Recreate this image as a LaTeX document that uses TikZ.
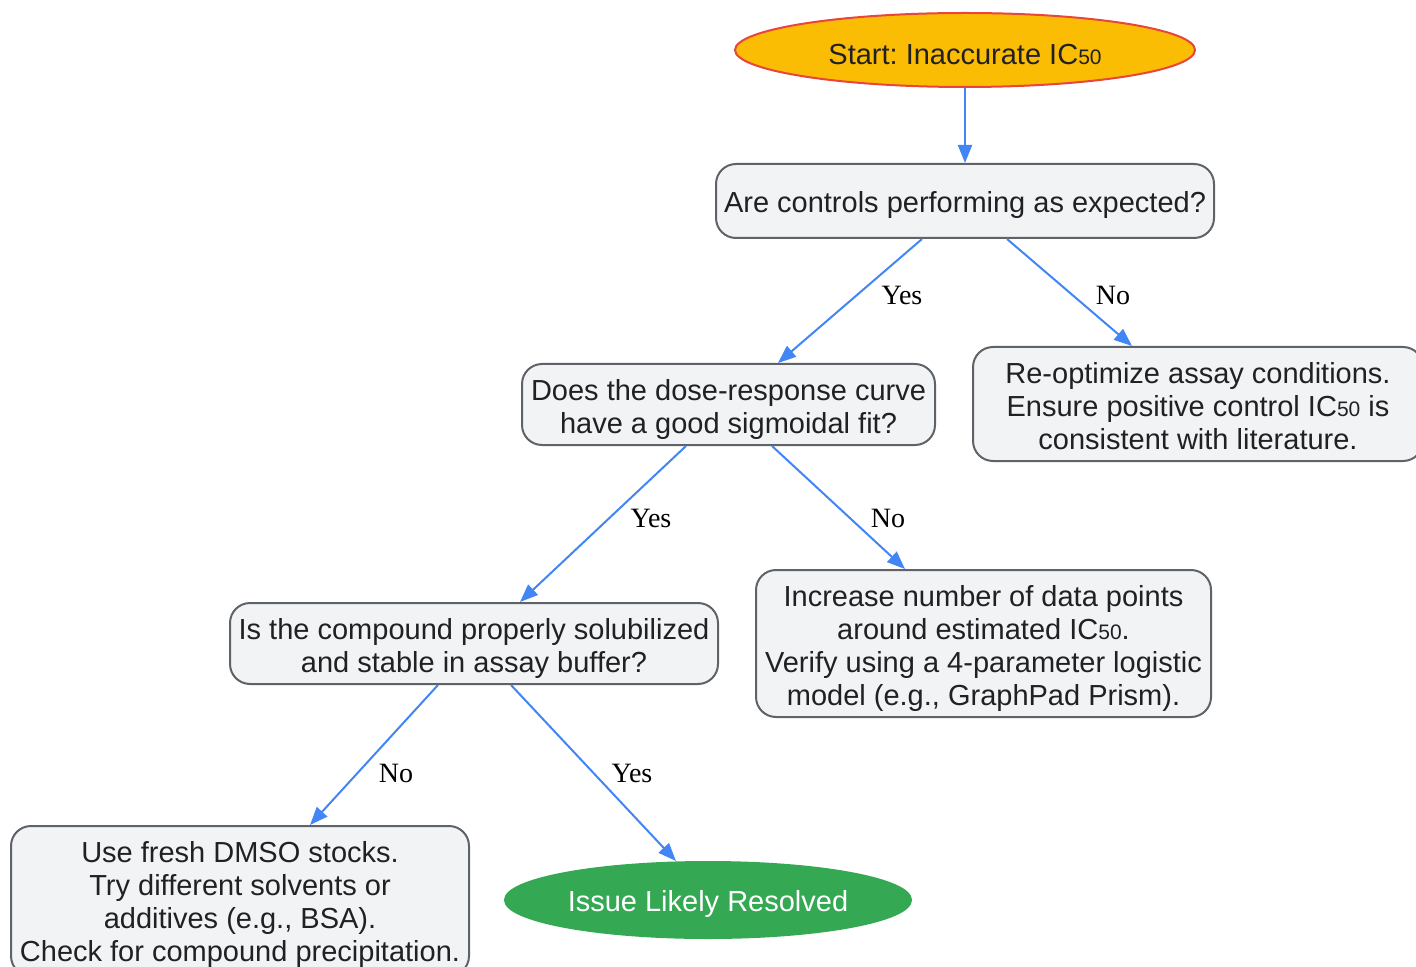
\documentclass[tikz,border=0pt]{standalone}
\usepackage{fontspec}
\setmainfont{Liberation Sans}
\newfontfamily\labelfont{Liberation Serif}
\usetikzlibrary{shapes.geometric,arrows.meta}
\definecolor{startfill}{HTML}{FBBC04}
\definecolor{startline}{HTML}{E8453C}
\definecolor{boxfill}{HTML}{F1F3F4}
\definecolor{boxline}{HTML}{5F6368}
\definecolor{arrowblue}{HTML}{4285F4}
\definecolor{endfill}{HTML}{34A853}
\definecolor{textgray}{HTML}{202124}
\newcommand{\icfifty}{IC{\fontsize{10.5}{12}\selectfont 50}}
\newcommand{\lift}[1]{\rule{0pt}{#1}}
\frenchspacing
\begin{document}
\begin{tikzpicture}
[x=0.5pt,y=-0.5pt,%
  every node/.style={font=\fontsize{14.5}{16.5}\selectfont,text=textgray,align=center},%
  decision/.style={draw=boxline,fill=boxfill,line width=1pt,rounded corners=10pt,inner sep=0pt},%
  terminal/.style={ellipse,inner sep=0pt,line width=1pt},%
  flow/.style={draw=arrowblue,line width=1pt,-{Triangle[length=9pt,width=7pt]}},%
  answer/.style={font=\labelfont\fontsize{14}{16}\selectfont,text=black}]
\useasboundingbox (0,0) rectangle (1416,967);
\node[terminal,draw=startline,fill=startfill,minimum width=230pt,minimum height=37pt] (start) at (965,50)
  {\lift{14.5pt}Start: Inaccurate \icfifty};
\node[decision,minimum width=249pt,minimum height=37pt] (controls) at (965,201)
  {\lift{14.5pt}Are controls performing as expected?};
\node[decision,minimum width=206.5pt,minimum height=40.5pt] (fit) at (728.5,404.5)
  {\lift{16pt}Does the dose-response curve\\have a good sigmoidal fit?};
\node[decision,minimum width=225pt,minimum height=57pt] (reopt) at (1198,404)
  {\lift{13pt}Re-optimize assay conditions.\\Ensure positive control \icfifty{} is\\consistent with literature.};
\node[decision,minimum width=244pt,minimum height=40.5pt] (solub) at (474,643.5)
  {\lift{16pt}Is the compound properly solubilized\\and stable in assay buffer?};
\node[decision,minimum width=227.5pt,minimum height=73.5pt] (points) at (983.5,643.5)
  {\lift{15.5pt}Increase number of data points\\around estimated \icfifty.\\Verify using a 4-parameter logistic\\model (e.g., GraphPad Prism).};
\node[decision,minimum width=229pt,minimum height=75pt] (dmso) at (240,901)
  {\lift{13.5pt}Use fresh DMSO stocks.\\Try different solvents or\\additives (e.g., BSA).\\Check for compound precipitation.};
\node[terminal,draw=endfill,fill=endfill,text=white,minimum width=203pt,minimum height=38pt] (resolved) at (708,900)
  {\lift{14.5pt}Issue Likely Resolved};

\draw[flow] (start) -- (controls);
\draw[flow] ([xshift=-21.5pt]controls.south) -- ([xshift=24.75pt]fit.north);
\draw[flow] ([xshift=21pt]controls.south) -- ([xshift=-33pt]reopt.north);
\draw[flow] ([xshift=-21.25pt]fit.south) -- ([xshift=23pt]solub.north);
\draw[flow] ([xshift=21.75pt]fit.south) -- ([xshift=-39.25pt]points.north);
\draw[flow] ([xshift=-18pt]solub.south) -- ([xshift=35pt]dmso.north);
\draw[flow] ([xshift=18.5pt]solub.south) -- ([xshift=-16pt]resolved.north);

\node[answer] (yes1) at (902,295) {Yes};
\node[answer] (no1) at (1113,295) {No};
\node[answer] (yes2) at (651,518) {Yes};
\node[answer] (no2) at (888,518) {No};
\node[answer] (no3) at (396,773) {No};
\node[answer] (yes3) at (632,773) {Yes};
\end{tikzpicture}
\end{document}
